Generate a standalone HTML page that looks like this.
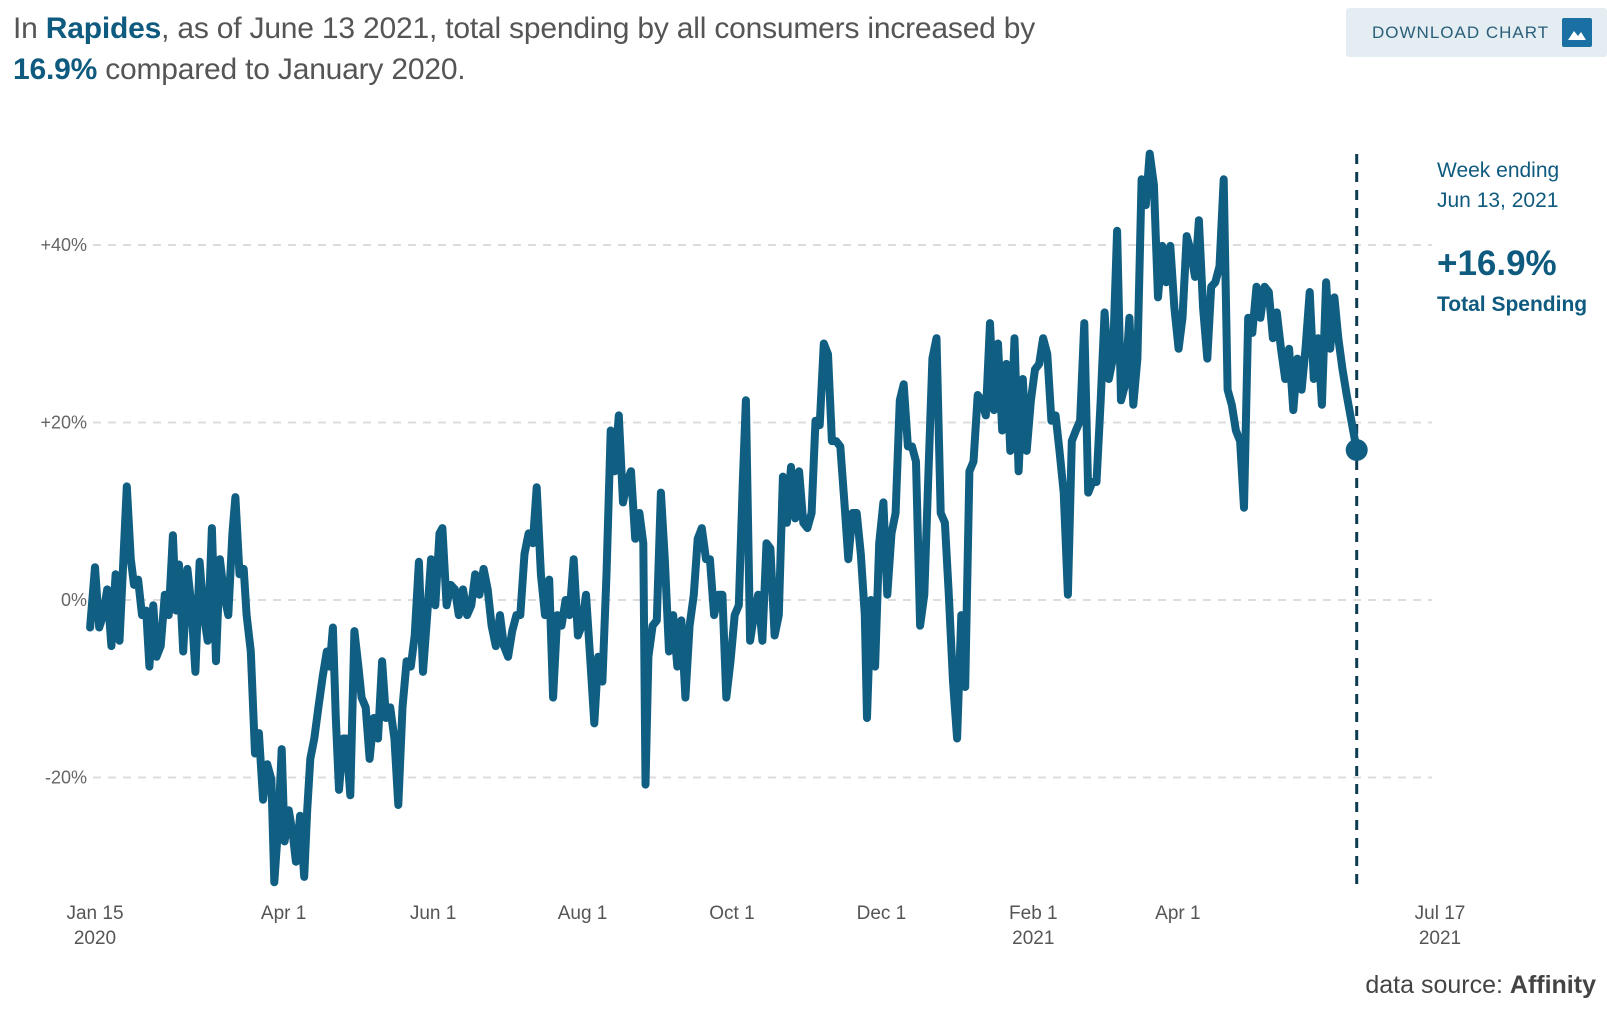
<!DOCTYPE html>
<html><head><meta charset="utf-8"><style>
html,body{margin:0;padding:0;background:#fff;}
body{width:1607px;height:1026px;overflow:hidden;position:relative;font-family:"Liberation Sans",sans-serif;}
.title{position:absolute;left:13px;top:8px;font-size:30px;line-height:41px;color:#555;letter-spacing:-0.2px;}
.title b{color:#0f5a7f;}
.btn{position:absolute;left:1346px;top:8px;width:261px;height:49px;background:#e3edf2;border-radius:3px;}
.btn span{position:absolute;left:26px;top:15px;font-size:17px;letter-spacing:1px;color:#2a5f7a;}
.btn i{position:absolute;left:216px;top:10px;width:30px;height:29px;background:#1a6fa3;border-radius:2px;}
</style></head><body>
<div class="title">In <b>Rapides</b>, as of June 13 2021, total spending by all consumers increased by<br><b>16.9%</b> compared to January 2020.</div>
<div class="btn"><span>DOWNLOAD CHART</span><i><svg width="30" height="29"><path d="M6 22 L12 13 L16 18 L19 14 L24 22 Z" fill="#fff"/></svg></i></div>
<svg id="chart" width="1607" height="1026" style="position:absolute;left:0;top:0"></svg>
<script>
const days=[-2,0,1.7,3.3,5,6.7,8.4,10,11.3,13,14.6,15.9,17.6,19.2,20.9,22.2,23.8,25.1,26.8,28.5,30.1,31.8,33.1,34.3,36,37.7,39.3,41,42.7,44.4,46,47.7,49.4,51,52.7,54.4,56.1,57.3,59,60.7,61.9,63.6,65.3,66.9,68.6,70.3,72,73.2,74.9,76.2,77.4,79.1,80.8,82,83.7,85.4,86.6,87.9,89.5,91.2,92.9,94.6,95.8,97.1,98.3,99.6,101.3,102.5,104.2,105.9,107.5,108.8,110.5,112.1,113.8,115.5,117.2,118.8,120.5,122.2,123.8,125.5,127.2,128.9,130.5,132.2,133.9,135.6,137.2,138.9,140.6,141.8,143.5,145.2,146.9,148.5,150.2,151.9,153.6,155.2,156.9,158.6,160.3,161.9,163.6,165.3,166.9,168.6,170.3,172,173.6,175.3,177,178.7,180.3,182,183.7,185.4,187,188.7,190.4,192.1,193.7,195.4,197.1,198.7,200.4,202.1,203.8,205.4,207.1,208.8,210.5,212.1,213.8,215.5,217.2,218.8,220.5,222.2,223.8,224.7,225.9,227.6,229.3,231,232.6,234.3,236,237.7,239.3,241,242.7,244.4,246,247.7,249.4,251,252.7,254.4,256.1,257.7,259.4,261.1,262.8,264.4,265.7,267.4,269,270.7,272.4,274.1,275.7,277.4,279.1,280.8,282.4,284.1,285.8,287.4,289.1,290.8,292.5,294.1,295.8,297.5,299.2,300.8,302.5,304.2,305.9,307.5,309.2,310.9,312.6,314.2,315.1,316.7,318.4,320.1,321.8,323.4,325.1,326.8,328.5,330.1,331.8,333.5,335.1,336.8,338.5,340.2,341.8,343.5,345.2,346.9,348.5,350.2,351.9,353.6,355.2,356.9,358.6,360.3,361.9,363.6,365.3,366.9,368.6,370.3,372,373.6,375.3,377,378.7,380.3,382,383.7,385.4,387,388.7,390.4,392.1,393.7,395.4,397.1,398.7,400.4,402.1,403.8,405.4,407.1,408.8,410.5,412.1,413.8,415.5,417.2,418.8,420.5,422.2,423.8,425.5,427.2,428.9,430.5,432.2,433.9,435.6,437.2,438.9,440.6,442.3,443.9,445.6,447.3,449,450.6,452.3,454,455.6,457.3,459,460.7,462.3,464,465.7,467.4,469,470.7,472.4,474.1,475.7,477.4,479.1,480.8,482.4,484.1,485.8,487.4,489.1,490.8,492.5,494.1,495.8,497.5,499.2,500.8,502.5,504.2,505.9,507.5,509.2,510.9,515];
const values=[-3.1,3.7,-3.1,-1.7,1.2,-5.2,2.9,-4.6,2.9,12.8,4.6,1.7,2.3,-1.7,-1.2,-7.5,-0.6,-6.4,-5.2,0.6,-1.7,7.3,-1.2,4.0,-5.8,3.5,-0.6,-8.1,4.3,-1.7,-4.6,8.1,-6.9,4.6,0.6,-1.7,7.5,11.6,2.9,3.5,-1.7,-5.8,-17.3,-15.0,-22.5,-18.5,-20.2,-31.8,-24.9,-16.8,-27.2,-23.7,-26.6,-29.5,-24.3,-31.2,-23.7,-17.9,-15.6,-12.1,-8.7,-5.8,-7.5,-3.1,-13.3,-21.4,-15.6,-15.6,-22.0,-3.5,-7.5,-11.0,-12.1,-17.9,-13.3,-15.6,-6.9,-13.3,-12.1,-15.6,-23.1,-12.1,-6.9,-7.5,-4.0,4.3,-8.1,-1.7,4.6,-0.6,7.5,8.1,-0.6,1.7,1.2,-1.7,1.2,-1.7,-0.6,2.9,0.6,3.5,1.2,-2.9,-5.2,-1.7,-5.2,-6.4,-3.5,-1.7,-1.7,5.2,7.5,6.4,12.7,2.9,-1.7,2.3,-11.0,-1.7,-2.9,0,-1.7,4.6,-4.0,-2.9,0.6,-6.4,-13.9,-6.4,-9.2,2.9,19.1,14.5,20.8,11.0,13.3,14.5,6.9,9.8,6.4,-20.8,-6.4,-2.9,-2.3,12.1,4.6,-5.8,-1.7,-7.5,-2.3,-11.0,-2.9,0.6,6.9,8.1,4.6,4.6,-1.7,0.6,0.6,-11.0,-6.9,-1.7,-0.6,13.3,22.5,-4.6,-1.7,0.6,-4.6,6.4,5.8,-4.0,-1.7,13.9,8.7,15.0,9.2,14.5,8.7,8.1,9.8,20.2,19.7,28.9,27.7,17.9,17.9,17.3,11.0,4.6,9.8,9.8,5.2,-1.7,-13.3,0,-7.5,6.4,11.0,0.6,7.5,9.8,22.5,24.3,17.3,17.3,15.6,-2.9,0.6,14.5,27.2,29.5,9.8,8.7,0.6,-9.2,-15.6,-1.7,-9.8,14.5,15.6,23.1,22.5,20.8,31.2,21.4,28.9,19.1,26.6,16.8,29.5,14.5,24.9,16.8,22.5,26.0,26.6,29.5,27.7,20.2,20.8,16.8,12.1,0.6,17.9,19.1,20.2,31.2,12.1,13.3,13.3,22.5,32.4,24.9,27.2,41.6,22.5,24.3,31.8,22.0,27.2,47.4,44.5,50.3,46.8,34.1,39.9,35.8,39.9,32.9,28.3,31.8,41.0,39.3,36.4,42.8,32.9,27.2,35.3,35.8,37.6,47.4,23.7,22.0,19.1,17.9,10.4,31.8,30.1,35.3,31.8,35.3,34.7,29.5,32.4,28.3,24.9,28.3,21.4,27.2,23.7,28.3,34.7,24.9,29.5,22.0,35.8,28.3,34.1,29.5,26.0,23.1,16.9];
const yTicks=[40,20,0,-20];
const yTickLabels=["+40%","+20%","0%","-20%"];
const xTickDays=[0,77,138,199,260,321,383,442,549];
const xTickLabels=["Jan 15","Apr 1","Jun 1","Aug 1","Oct 1","Dec 1","Feb 1","Apr 1","Jul 17"];
const xTickYears=["2020","","","","","","2021","","2021"];
const lastDay=515, lastValue=16.9;

const NS="http://www.w3.org/2000/svg";
const svg=document.getElementById('chart');
const X=d=>95+d*(1345/549);
const Y=v=>600-v*8.875;
function mk(tag,attrs,parent){const e=document.createElementNS(NS,tag);for(const k in attrs)e.setAttribute(k,attrs[k]);(parent||svg).appendChild(e);return e;}

yTicks.forEach((t,i)=>{
  const g=mk('line',{x1:93,x2:1432,y1:Y(t),y2:Y(t),stroke:'#dcdcdc','stroke-width':2,'stroke-dasharray':'8 7'});
  
  
  const tx=mk('text',{x:87,y:Y(t)+6,'text-anchor':'end','font-size':18,fill:'#666','font-family':'Liberation Sans, sans-serif'});
  tx.textContent=yTickLabels[i];
  
  
});
xTickDays.forEach((d,i)=>{
  const tx=mk('text',{x:X(d),y:919,'text-anchor':'middle','font-size':19,fill:'#555','font-family':'Liberation Sans, sans-serif'});
  tx.textContent=xTickLabels[i];
  
  
  if(xTickYears[i]){
    const ty=mk('text',{x:X(d),y:944,'text-anchor':'middle','font-size':19,fill:'#555','font-family':'Liberation Sans, sans-serif'});
    ty.textContent=xTickYears[i];
    
    
  }
});
const vline=mk('line',{x1:X(lastDay),x2:X(lastDay),y1:154,y2:888,stroke:'#0d3b52','stroke-width':3,'stroke-dasharray':'10 8'});


const pts=days.map((d,i)=>X(d).toFixed(1)+','+Y(values[i]).toFixed(1)).join(' ');
const line=mk('polyline',{points:pts,fill:'none',stroke:'#105e82','stroke-width':8,'stroke-linejoin':'round','stroke-linecap':'round'});


const dot=mk('circle',{cx:X(lastDay),cy:Y(lastValue),r:11,fill:'#105e82'});



const ann=[["Week ending",170,21,600],["Jun 13, 2021",200,21,600],["+16.9%",268,35,700],["Total Spending",304,21,700]];
ann.forEach(a=>{
  const t=mk('text',{x:1437,y:a[1]+7,'font-size':a[2],'font-weight':a[3]==700?'bold':'normal',fill:'#0f5a7f','font-family':'Liberation Sans, sans-serif'});
  t.textContent=a[0];
  
  
});
const src=mk('text',{x:1596,y:993,'text-anchor':'end','font-size':25,fill:'#444','font-family':'Liberation Sans, sans-serif'});
src.innerHTML='data source: <tspan font-weight="bold">Affinity</tspan>';


</script>
</body></html>
